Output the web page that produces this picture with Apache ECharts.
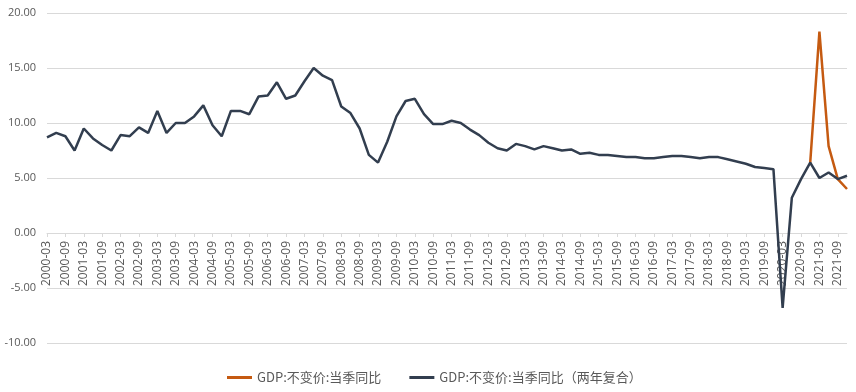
<!DOCTYPE html>
<html>
<head>
<meta charset="utf-8">
<script src="https://cdn.jsdelivr.net/npm/echarts@6/dist/echarts.min.js"></script>
<style>html,body{margin:0;padding:0;background:#fff}#c{width:856px;height:392px}</style>
</head>
<body>
<div id="c"></div>
<script>
var years = [2000,2001,2002,2003,2004,2005,2006,2007,2008,2009,2010,2011,2012,2013,2014,2015,2016,2017,2018,2019,2020,2021];
var months = ['03','06','09','12'];
var categories = [];
years.forEach(function(y){ months.forEach(function(m){ categories.push(y + '-' + m); }); });

var seriesNames = ['GDP:不变价:当季同比', 'GDP:不变价:当季同比（两年复合）'];

// Where both series coincide (before 2020-12) only the two-year series is visible in the reference
var yoy = [null, null, null, null, null, null, null, null, null, null, null, null, null, null, null, null,
  null, null, null, null, null, null, null, null, null, null, null, null,
  null, null, null, null, null, null, null, null, null, null, null, null, null, null, null, null,
  null, null, null, null, null, null, null, null, null, null, null, null, null, null, null, null,
  null, null, null, null, null, null, null, null, null, null, null, null, null, null, null, null,
  null, null, null, null, null, null, null, 6.4, 18.3, 7.9, 4.9, 4.0];

var twoYear = [8.7, 9.1, 8.8, 7.5, 9.5, 8.6, 8.0, 7.5, 8.9, 8.8, 9.6, 9.1, 11.1, 9.1, 10.0, 10.0,
  10.6, 11.6, 9.8, 8.8, 11.1, 11.1, 10.8, 12.4, 12.5, 13.7, 12.2, 12.5,
  13.8, 15.0, 14.3, 13.9, 11.5, 10.9, 9.5, 7.1, 6.4, 8.3, 10.6, 12.0, 12.2, 10.8, 9.9, 9.9,
  10.2, 10.0, 9.4, 8.9, 8.2, 7.7, 7.5, 8.1, 7.9, 7.6, 7.9, 7.7, 7.5, 7.6, 7.2, 7.3,
  7.1, 7.1, 7.0, 6.9, 6.9, 6.8, 6.8, 6.9, 7.0, 7.0, 6.9, 6.8, 6.9, 6.9, 6.7, 6.5,
  6.3, 6.0, 5.9, 5.8, -6.8, 3.2, 4.9, 6.4, 5.0, 5.5, 4.9, 5.2];

var chart = echarts.init(document.getElementById('c'), null, {renderer: 'canvas'});
chart.setOption({
  animation: false,
  backgroundColor: '#ffffff',
  grid: {left: 47, right: 9, top: 13, bottom: 49, containLabel: false},
  legend: {
    top: 366,
    left: 222,
    itemGap: 28,
    itemWidth: 25,
    itemHeight: 3,
    icon: 'rect',
    textStyle: {color: '#595959', fontSize: 13, fontFamily: 'Noto Sans CJK SC'},
    data: seriesNames
  },
  xAxis: {
    type: 'category',
    data: categories,
    boundaryGap: false,
    offset: -110,
    axisLine: {onZero: false, lineStyle: {color: '#d9d9d9', width: 1}},
    axisTick: {show: true, interval: 1, length: 4, lineStyle: {color: '#d9d9d9'}},
    axisLabel: {interval: 1, rotate: 90, color: '#595959', fontSize: 12, fontFamily: 'Open Sans', margin: 8},
    splitLine: {show: false}
  },
  yAxis: {
    type: 'value',
    min: -10, max: 20, interval: 5,
    axisLine: {show: false, onZero: false},
    axisTick: {show: false},
    axisLabel: {color: '#595959', fontSize: 11, fontFamily: 'Open Sans', margin: 11,
      formatter: function(v){ return v.toFixed(2); }},
    splitLine: {lineStyle: {color: '#d9d9d9', width: 1}}
  },
  series: [
    {name: seriesNames[0], type: 'line', data: yoy, showSymbol: false, symbol: 'none',
      lineStyle: {color: '#C55A11', width: 2.5}, itemStyle: {color: '#C55A11'}, z: 2},
    {name: seriesNames[1], type: 'line', data: twoYear, showSymbol: false, symbol: 'none',
      lineStyle: {color: '#323E4F', width: 2.5}, itemStyle: {color: '#323E4F'}, z: 3}
  ]
});
</script>
</body>
</html>
